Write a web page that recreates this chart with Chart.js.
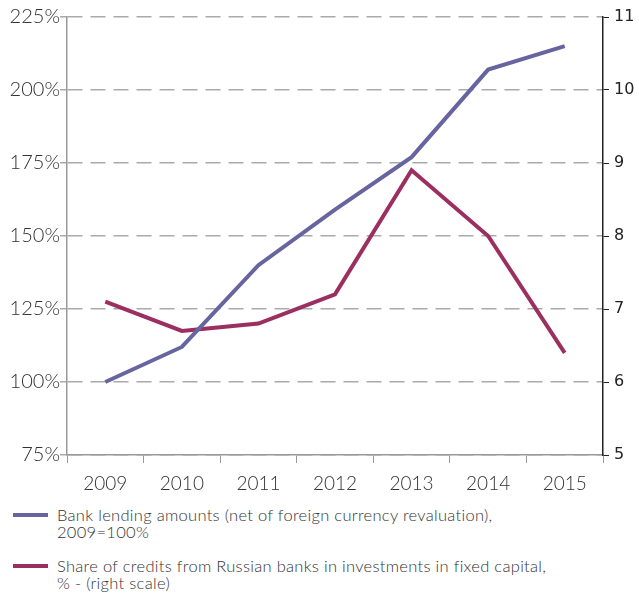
<!DOCTYPE html>
<html>
<head>
<meta charset="utf-8">
<script src="https://cdn.jsdelivr.net/npm/chart.js@4.4.0/dist/chart.umd.min.js"></script>
<style>
  body { margin: 0; background: #fff; font-family: Lato, "Open Sans", sans-serif; }
  #wrap { position: relative; width: 639px; height: 500px; }
  .leg { position: absolute; left: 13px; width: 626px; font-size: 16.5px; font-weight: 300; letter-spacing: 0.3px; line-height: 17px; color: #333; }
  .leg .sw { position: absolute; left: 0; top: 6px; width: 35px; height: 4px; }
  .leg .tx { margin-left: 44px; }
</style>
</head>
<body>
<div id="wrap"><canvas id="myChart" width="639" height="500"></canvas></div>
<div class="leg" style="top:507px;"><span class="sw" style="background:#67659f"></span><div class="tx">Bank lending amounts (net of foreign currency revaluation),<br>2009=100%</div></div>
<div class="leg" style="top:558px;"><span class="sw" style="background:#9b2f60"></span><div class="tx">Share of credits from Russian banks in investments in fixed capital,<br>% - (right scale)</div></div>
<script>
var years = ['2009', '2010', '2011', '2012', '2013', '2014', '2015'];
var lending = [100, 112, 140, 159, 177, 207, 215];
var creditShare = [7.1, 6.7, 6.8, 7.2, 8.9, 8.0, 6.4];

var ctx = document.getElementById('myChart').getContext('2d');
var myChart = new Chart(ctx, {
    type: 'line',
    data: {
        labels: years,
        datasets: [{
            label: 'Bank lending amounts',
            data: lending,
            borderColor: '#67659f',
            borderWidth: 4,
            pointRadius: 0,
            tension: 0,
            yAxisID: 'y'
        }, {
            label: 'Share of credits',
            data: creditShare,
            borderColor: '#9b2f60',
            borderWidth: 4,
            pointRadius: 0,
            tension: 0,
            yAxisID: 'y1'
        }]
    },
    options: {
        responsive: false,
        animation: false,
        layout: { padding: { top: 17, left: 0, right: 0, bottom: 0 } },
        plugins: {
            legend: { display: false },
            tooltip: { enabled: false }
        },
        scales: {
            x: {
                offset: true,
                grid: { offset: true, drawOnChartArea: false, tickLength: 8, color: '#999' },
                border: { color: '#999', width: 1.5 },
                ticks: { color: '#333', font: { family: 'Lato', size: 19, weight: '300' }, padding: 9 },
                afterFit: function (s) { s.height = 45; }
            },
            y: {
                position: 'left',
                min: 75, max: 225,
                ticks: {
                    stepSize: 25,
                    color: '#333',
                    font: { family: 'Lato', size: 20, weight: '300' },
                    padding: 0,
                    callback: function (v) { return v + '%'; }
                },
                grid: { color: '#aaa', lineWidth: 1.5, tickLength: 7 },
                border: { color: '#999', width: 1.5, dash: [15, 8] },
                afterFit: function (s) { s.width = 67; }
            },
            y1: {
                position: 'right',
                min: 5, max: 11,
                ticks: {
                    stepSize: 1,
                    color: '#222',
                    font: { family: 'DejaVu Sans', size: 16 },
                    padding: 5
                },
                grid: { drawOnChartArea: false, tickLength: 6, color: '#222' },
                border: { color: '#222', width: 1.5 },
                afterFit: function (s) { s.width = 36; }
            }
        }
    }
});
</script>
</body>
</html>
